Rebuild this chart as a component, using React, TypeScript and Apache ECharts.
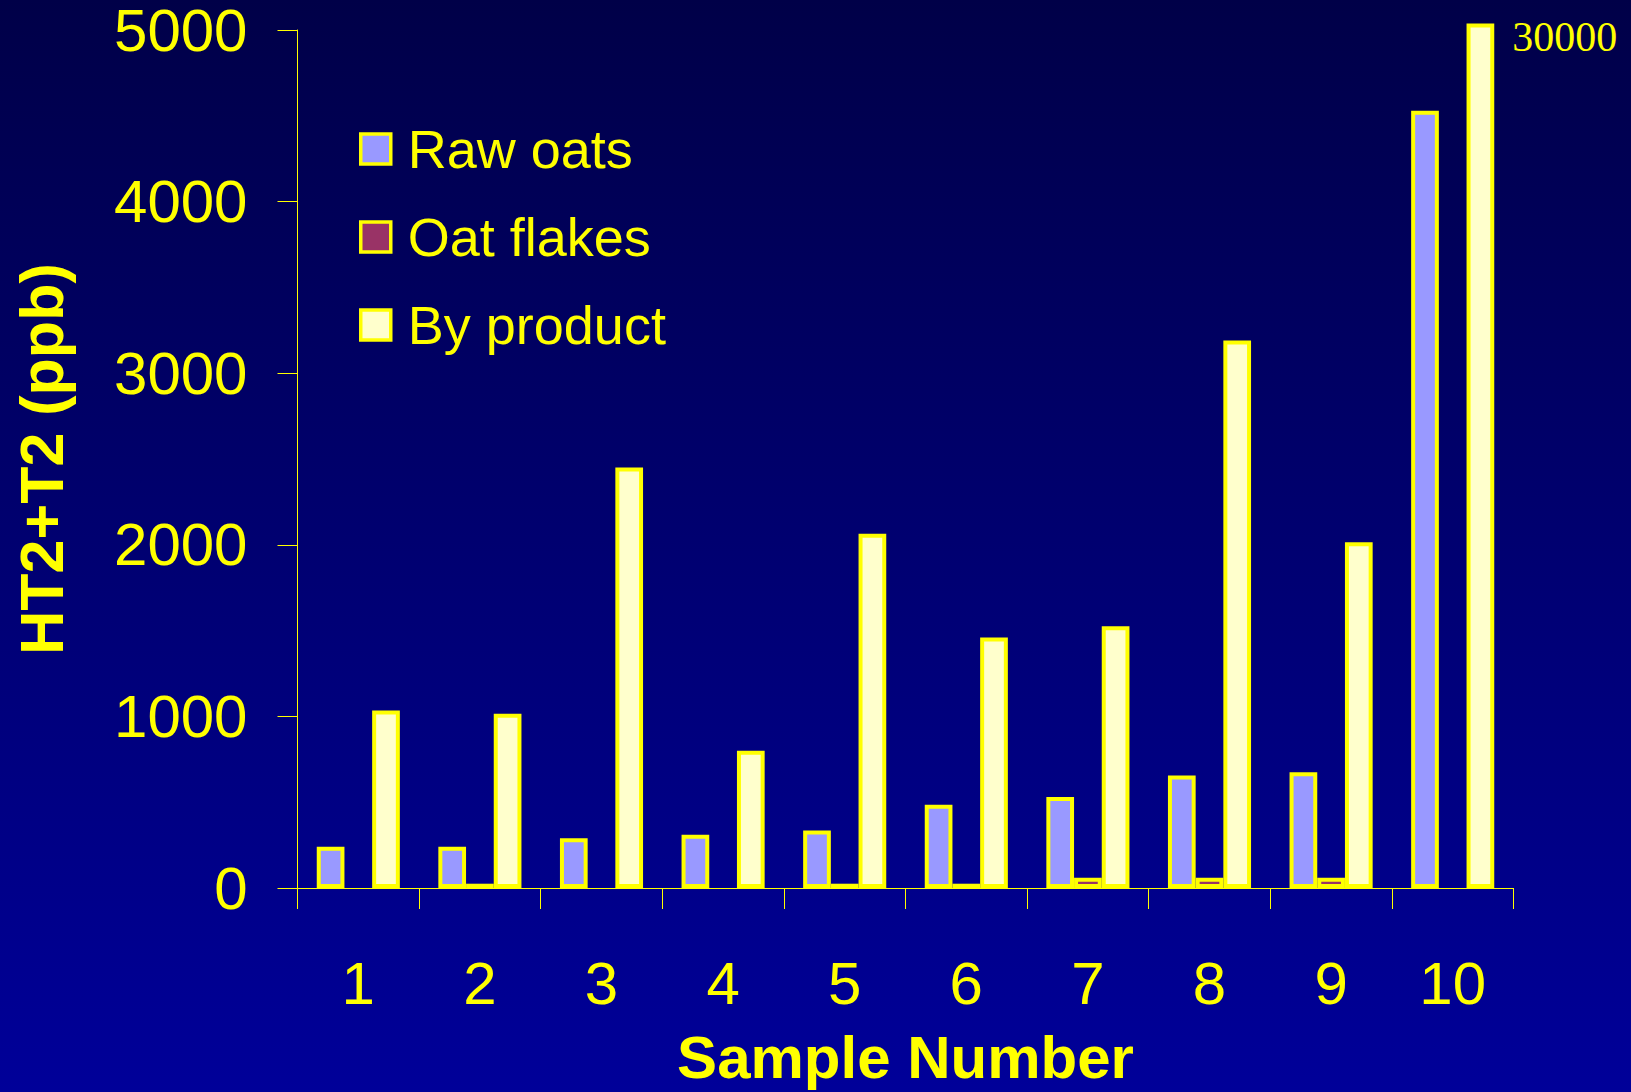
import React, { useEffect, useRef } from "react";
import * as echarts from "echarts";

const categories = ["1", "2", "3", "4", "5", "6", "7", "8", "9", "10"];
const rawOats = [240, 240, 290, 310, 335, 485, 530, 655, 675, 4530];
const oatFlakes = [null, 25, null, null, 25, 25, 60, 60, 60, null];
const byProduct = [1035, 1015, 2450, 800, 2065, 1460, 1525, 3190, 2015, 30000];
const yTicks = { min: 0, max: 5000, interval: 1000 };
const seriesNames = ["Raw oats", "Oat flakes", "By product"];
const yAxisTitle = "HT2+T2 (ppb)";
const xAxisTitle = "Sample Number";

// bars beyond the axis maximum are drawn as broken (slightly over the top)
const BREAK_OVERSHOOT = 38;

const YELLOW = "#FFFF00";
const FONT = "'Liberation Sans', Arial, sans-serif";

export default function App() {
  const ref = useRef<HTMLDivElement>(null);

  useEffect(() => {
    if (!ref.current) return;
    const chart = echarts.init(ref.current, null, { renderer: "svg" });

    const byProductData = byProduct.map((v) =>
      v > yTicks.max
        ? {
            value: yTicks.max + BREAK_OVERSHOOT,
            label: {
              show: true,
              formatter: String(v),
              position: ["100%", 0],
              offset: [18, -7],
              align: "left",
              verticalAlign: "top",
              color: YELLOW,
              fontFamily: "'Liberation Serif', 'Times New Roman', serif",
              fontSize: 42,
            },
          }
        : v
    );

    const barBase = {
      type: "bar",
      barWidth: 27.7,
      barGap: "0%",
      clip: false,
    };

    chart.setOption({
      animation: false,
      backgroundColor: {
        type: "linear",
        x: 0,
        y: 0,
        x2: 0,
        y2: 1,
        colorStops: [
          { offset: 0, color: "#000048" },
          { offset: 1, color: "#000099" },
        ],
      },
      grid: { left: 297.5, right: 117.5, top: 30, bottom: 202 },
      legend: {
        orient: "vertical",
        left: 354,
        top: 117,
        itemWidth: 30,
        itemHeight: 30,
        itemGap: 34,
        icon: "rect",
        itemStyle: { borderColor: YELLOW, borderWidth: 3.5 },
        textStyle: { color: YELLOW, fontSize: 54, fontFamily: FONT, padding: [0, 0, 0, 12] },
        data: seriesNames,
      },
      xAxis: {
        type: "category",
        data: categories,
        name: xAxisTitle,
        nameLocation: "middle",
        nameGap: 139,
        nameTextStyle: { color: YELLOW, fontSize: 60, fontWeight: "bold", fontFamily: FONT },
        axisLine: { lineStyle: { color: YELLOW, width: 1 } },
        axisTick: { show: true, length: 21, interval: 0, lineStyle: { color: YELLOW } },
        axisLabel: { color: YELLOW, fontSize: 60, fontFamily: FONT, margin: 65, interval: 0 },
        splitLine: { show: false },
      },
      yAxis: {
        type: "value",
        min: yTicks.min,
        max: yTicks.max,
        interval: yTicks.interval,
        name: yAxisTitle,
        nameLocation: "middle",
        nameGap: 225,
        nameRotate: 90,
        nameTextStyle: { color: YELLOW, fontSize: 61, fontWeight: "bold", fontFamily: FONT },
        axisLine: { show: true, lineStyle: { color: YELLOW, width: 1 } },
        axisTick: { show: true, length: 20, lineStyle: { color: YELLOW } },
        axisLabel: {
          color: YELLOW,
          fontSize: 60,
          lineHeight: 50,
          fontFamily: FONT,
          margin: 50,
          formatter: (v: number) => String(v),
        },
        splitLine: { show: false },
      },
      series: [
        {
          ...barBase,
          name: seriesNames[0],
          data: rawOats,
          itemStyle: { color: "#9999FF", borderColor: YELLOW, borderWidth: 4 },
        },
        {
          ...barBase,
          name: seriesNames[1],
          data: oatFlakes,
          itemStyle: { color: "#993366", borderColor: YELLOW, borderWidth: 4 },
        },
        {
          ...barBase,
          name: seriesNames[2],
          data: byProductData,
          itemStyle: { color: "#FFFFCC", borderColor: YELLOW, borderWidth: 4 },
        },
      ],
    });

    return () => chart.dispose();
  }, []);

  return (
    <div
      ref={ref}
      style={{ position: "fixed", left: 0, top: 0, width: 1631, height: 1092 }}
    />
  );
}
